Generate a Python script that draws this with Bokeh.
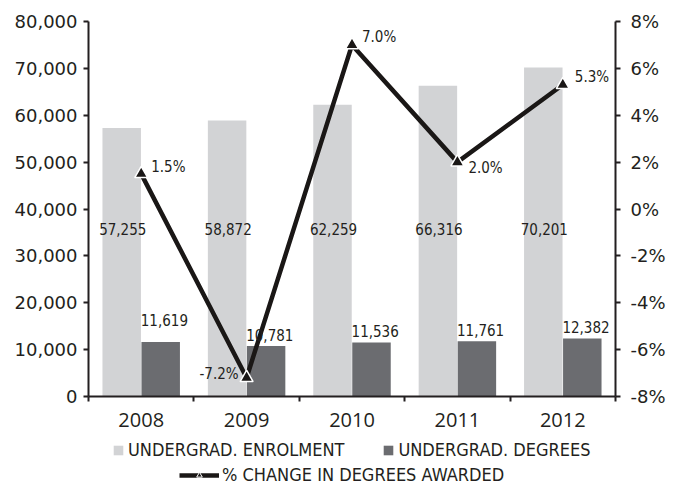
from bokeh.plotting import figure
from bokeh.layouts import column
from bokeh.models import (ColumnDataSource, Range1d, LinearAxis, FixedTicker,
                          Legend, LegendItem, NumeralTickFormatter)
from bokeh.core.properties import value
from bokeh.transform import dodge
from bokeh.embed import file_html
from bokeh.resources import INLINE

# ---- data ----
years = ["2008", "2009", "2010", "2011", "2012"]
enrolment = [57255, 58872, 62259, 66316, 70201]
degrees = [11619, 10781, 11536, 11761, 12382]
pct_change = [1.5, -7.2, 7.0, 2.0, 5.3]
left_ticks = [0, 10000, 20000, 30000, 40000, 50000, 60000, 70000, 80000]
right_ticks = [-8, -6, -4, -2, 0, 2, 4, 6, 8]
series_names = ["UNDERGRAD. ENROLMENT", "UNDERGRAD. DEGREES",
                "% CHANGE IN DEGREES AWARDED"]

# ---- styling ----
LIGHT = "#d2d3d5"
DARK = "#6b6c70"
INK = "#231f20"
LINE = "#1a1716"
COND = "DejaVu Sans Condensed"

xs = [i + 0.5 for i in range(len(years))]
src = ColumnDataSource(dict(
    x=xs,
    enrol=enrolment,
    deg=degrees,
    pct=pct_change,
    enrol_txt=[f"{v:,}" for v in enrolment],
    deg_txt=[f"{v:,}" for v in degrees],
    pct_txt=[f"{v:.1f}%" for v in pct_change],
    # label placement (screen px)
    deg_yo=[-16, -5, -5, -5, -5],
    pct_xo=[10, -8, 10, 11, 12],
    pct_yo=[-7, -4, -8, 6, -8],
    pct_al=["left", "right", "left", "left", "left"],
))

p = figure(frame_width=527, frame_height=375,
           x_range=Range1d(0, len(years)), y_range=Range1d(0, 80000),
           output_backend="svg", toolbar_location=None,
           min_border_left=88, min_border_right=63,
           min_border_top=21, min_border_bottom=44)
p.extra_y_ranges = {"pct": Range1d(-8, 8)}
p.outline_line_color = None
p.xgrid.visible = False
p.ygrid.visible = False

bw = 0.365
BAR_EN = dict(fill_color=LIGHT, line_color=None)
BAR_DG = dict(fill_color=DARK, line_color=None)
LN = dict(line_color=LINE, line_width=4.5)
p.vbar(x=dodge("x", -0.185, range=p.x_range), top="enrol", width=bw,
       source=src, **BAR_EN)
p.vbar(x=dodge("x", 0.185, range=p.x_range), top="deg", width=bw,
       source=src, **BAR_DG)

p.line("x", "pct", source=src, y_range_name="pct", **LN)
p.scatter("x", "pct", source=src, y_range_name="pct", marker="triangle",
          size=13, fill_color=LINE, line_color="white", line_width=1.5)

# data labels
LBL = dict(text_font=value(COND), text_font_size="15px", text_color=INK)
p.text(x=dodge("x", -0.175, range=p.x_range), y=35800, text="enrol_txt", source=src,
       text_align="center", text_baseline="middle", **LBL)
p.text(x=dodge("x", 0.22, range=p.x_range), y="deg", text="deg_txt", source=src,
       y_offset="deg_yo", text_align="center", text_baseline="bottom", **LBL)
p.text(x="x", y="pct", text="pct_txt", source=src, y_range_name="pct",
       x_offset="pct_xo", y_offset="pct_yo", text_align="pct_al",
       text_baseline="middle", **LBL)

# axes
def style_axis(ax):
    ax.axis_line_color = INK
    ax.axis_line_width = 2
    ax.major_tick_line_color = INK
    ax.major_tick_line_width = 2
    ax.major_tick_in = 0
    ax.major_tick_out = 5
    ax.minor_tick_line_color = None
    ax.major_label_text_color = INK

yl = p.yaxis[0]
style_axis(yl)
yl.ticker = FixedTicker(ticks=left_ticks)
yl.formatter = NumeralTickFormatter(format="0,0")
yl.major_label_text_font = "DejaVu Sans"
yl.major_label_text_font_size = "18px"
yl.major_label_standoff = 6

yr = LinearAxis(y_range_name="pct", ticker=FixedTicker(ticks=right_ticks))
style_axis(yr)
yr.major_label_overrides = {t: f"{t}%" for t in right_ticks}
yr.major_label_text_font = "DejaVu Sans"
yr.major_label_text_font_size = "18px"
yr.major_label_standoff = 10
p.add_layout(yr, "right")

xa = p.xaxis[0]
style_axis(xa)
xa.ticker = FixedTicker(ticks=xs, minor_ticks=list(range(len(years) + 1)))
xa.major_label_overrides = {x: y for x, y in zip(xs, years)}
xa.major_tick_line_color = None
xa.minor_tick_line_color = INK
xa.minor_tick_line_width = 2
xa.minor_tick_in = 0
xa.minor_tick_out = 5
xa.major_label_text_font = "Open Sans"
xa.major_label_text_font_size = "20px"
xa.major_label_standoff = 11

# ---- legend strip (separate figure below the chart) ----
# the strip shows the same series, but its y view lies far above all values,
# so only the legend entries are visible
q = figure(width=678, height=47, x_range=Range1d(0, len(years)),
           y_range=Range1d(1e7, 1e7 + 1),
           output_backend="svg", toolbar_location=None,
           x_axis_location=None, y_axis_location=None,
           min_border=0)
q.outline_line_color = None
q.xgrid.visible = False
q.ygrid.visible = False
k_en = q.vbar(x="x", top="enrol", width=bw, source=src, **BAR_EN)
k_dg = q.vbar(x="x", top="deg", width=bw, source=src, **BAR_DG)
k_ln = q.line("x", "pct", source=src, **LN)
k_mk = q.scatter("x", "pct", source=src, marker="triangle", size=8,
                 fill_color=LINE, line_color="white", line_width=1)

def style_legend(lg):
    lg.border_line_color = None
    lg.background_fill_alpha = 0
    lg.padding = 0
    lg.margin = 0
    lg.label_text_font = COND
    lg.label_text_font_size = "18px"
    lg.label_text_color = INK
    lg.label_height = 20

leg1 = Legend(items=[LegendItem(label=series_names[0], renderers=[k_en]),
                     LegendItem(label=series_names[1], renderers=[k_dg])],
              orientation="horizontal", location=(24, 27))
style_legend(leg1)
leg1.glyph_width = 12
leg1.glyph_height = 12
leg1.label_standoff = 4
leg1.spacing = 38
q.add_layout(leg1)

leg2 = Legend(items=[LegendItem(label=series_names[2], renderers=[k_ln, k_mk])],
              orientation="horizontal", location=(91, 2))
style_legend(leg2)
leg2.glyph_width = 40
leg2.glyph_height = 14
leg2.label_standoff = 3
q.add_layout(leg2)

page = column(p, q, spacing=0)
open("out.html", "w").write(file_html(page, INLINE))
